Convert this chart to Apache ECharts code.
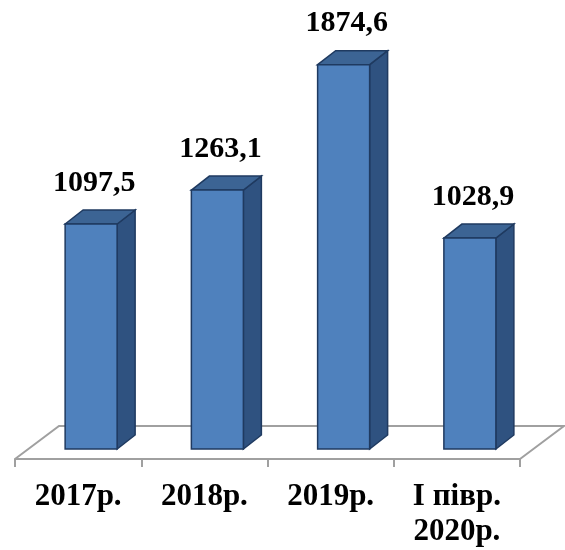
<!DOCTYPE html>
<html>
<head>
<meta charset="utf-8">
<script src="https://cdn.jsdelivr.net/npm/echarts@6/dist/echarts.min.js"></script>
<style>
html,body{margin:0;padding:0;background:#fff;}
#chart{width:565px;height:550px;}
</style>
</head>
<body>
<div id="chart"></div>
<script>
var categories = ['2017р.', '2018р.', '2019р.', 'І півр.\n2020р.'];
var values = [1097.5, 1263.1, 1874.6, 1028.9];
var valueLabels = ['1097,5', '1263,1', '1874,6', '1028,9'];

var FONT = "'Liberation Serif', 'Times New Roman', serif";
var chart = echarts.init(document.getElementById('chart'));

var barData = values.map(function (v, i) { return [i, v]; });

chart.setOption({
  animation: false,
  backgroundColor: '#ffffff',
  grid: { left: 15, right: 45, top: 39, bottom: 101 },
  xAxis: {
    type: 'category',
    data: categories,
    offset: 10,
    boundaryGap: true,
    axisLine: { show: true, onZero: false, lineStyle: { color: '#a0a0a0', width: 2 } },
    axisTick: { show: true, interval: 0, alignWithLabel: false, length: 8, lineStyle: { color: '#a0a0a0', width: 2 } },
    axisLabel: {
      color: '#000', fontFamily: FONT, fontWeight: 'bold',
      fontSize: 31, lineHeight: 35, margin: 20, interval: 0
    }
  },
  yAxis: { type: 'value', min: 0, max: 2000, show: false, splitLine: { show: false } },
  series: [
    {
      type: 'custom',
      clip: false,
      silent: true,
      z: 1,
      data: [[0, 0]],
      renderItem: function (params, api) {
        var cs = params.coordSys;
        var yF = cs.y + cs.height + 10, yB = cs.y + cs.height - 23;
        return {
          type: 'polyline',
          shape: { points: [[cs.x, yF], [cs.x + 44, yB], [cs.x + cs.width + 44, yB], [cs.x + cs.width, yF]] },
          style: { stroke: '#a0a0a0', lineWidth: 2, fill: null }
        };
      }
    },
    {
      type: 'custom',
      clip: false,
      z: 2,
      data: barData,
      renderItem: function (params, api) {
        var i = api.value(0), v = api.value(1);
        var base = api.coord([i, 0]);
        var top = api.coord([i, v]);
        var cx = base[0];
        var L = cx - 13, R = cx + 39, dx = 18, dy = -14;
        var y0 = base[1], y1 = top[1];
        var edge = '#1f3a60';
        return {
          type: 'group',
          children: [
            { type: 'polygon', shape: { points: [[R, y1], [R + dx, y1 + dy], [R + dx, y0 + dy], [R, y0]] },
              style: { fill: '#2f5280', stroke: edge, lineWidth: 1.5 } },
            { type: 'polygon', shape: { points: [[L, y1], [L + dx, y1 + dy], [R + dx, y1 + dy], [R, y1]] },
              style: { fill: '#3c6494', stroke: edge, lineWidth: 1.5 } },
            { type: 'polygon', shape: { points: [[L, y1], [R, y1], [R, y0], [L, y0]] },
              style: { fill: '#4f81bd', stroke: edge, lineWidth: 1.5 } },
            { type: 'text',
              style: { text: valueLabels[params.dataIndex], x: cx + 16, y: y1 - 41,
                align: 'center', verticalAlign: 'middle', fill: '#000',
                fontFamily: FONT, fontWeight: 'bold', fontSize: 30 } }
          ]
        };
      }
    }
  ]
});
</script>
</body>
</html>
